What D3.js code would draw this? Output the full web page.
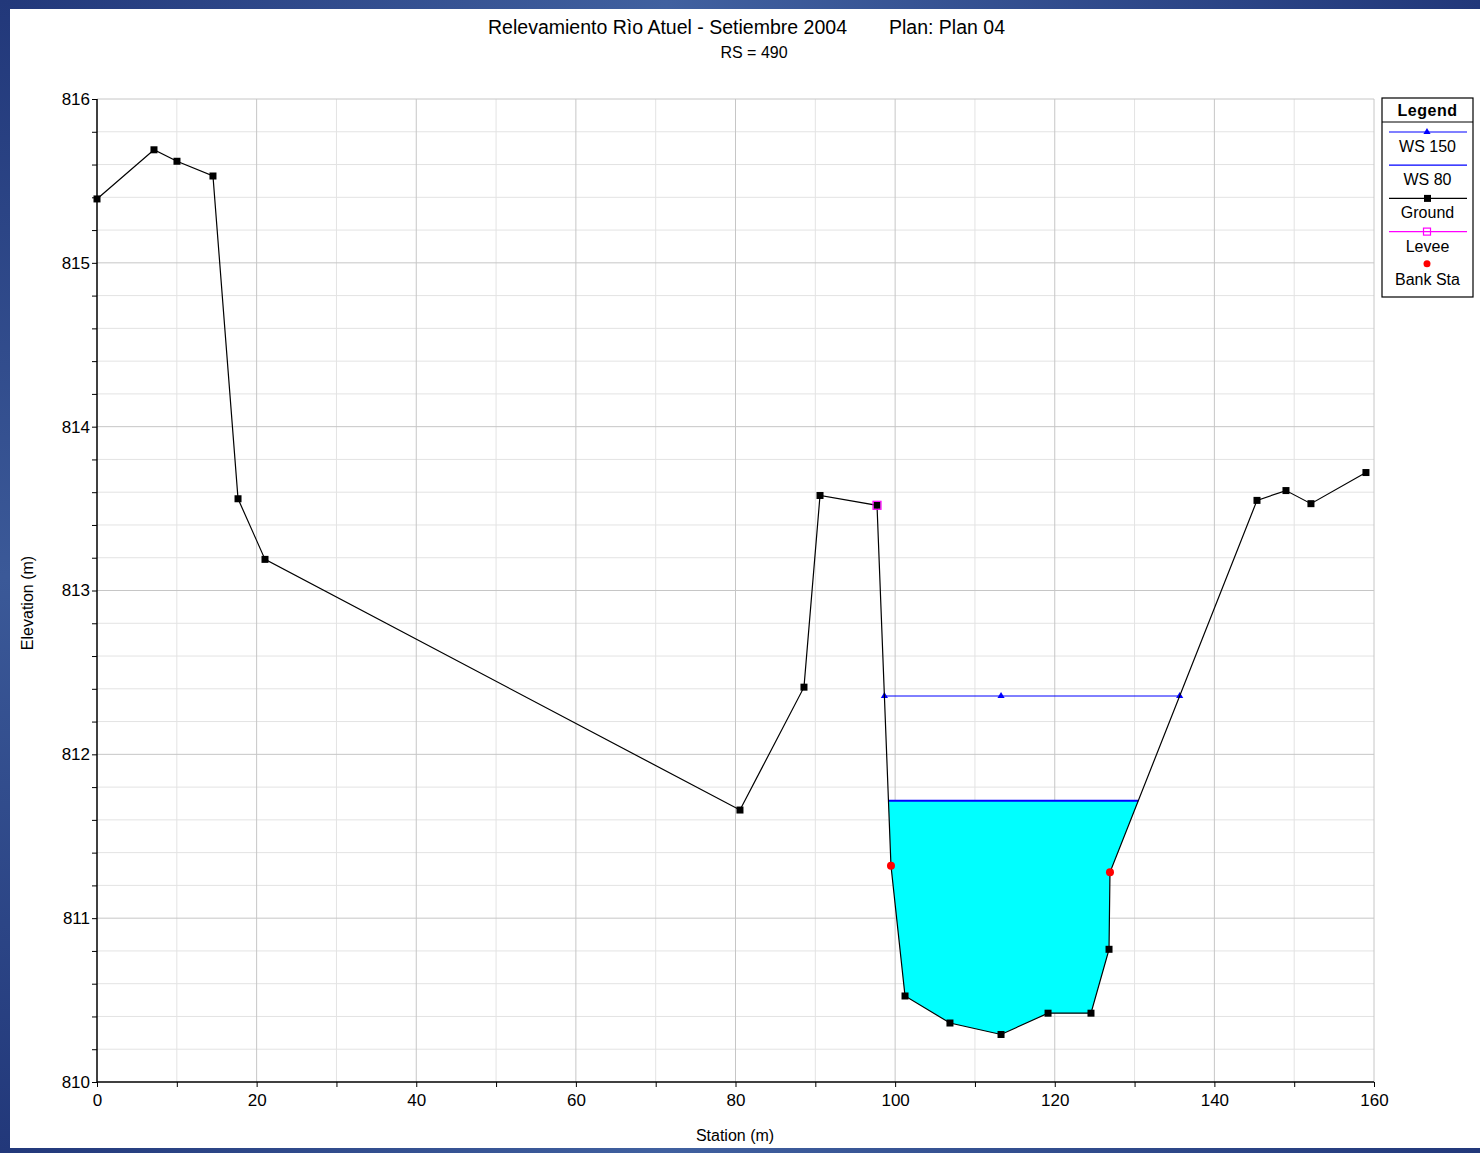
<!DOCTYPE html>
<meta charset="utf-8">
<style>
body { margin: 0; background: #fff; }
text { font-family: "Liberation Sans", Arial, sans-serif; }
</style>
<svg id="chart" width="1480" height="1153"></svg>
<script src="https://d3js.org/d3.v7.min.js"></script>
<script>

var svg = d3.select("svg#chart"),
	width = +svg.attr("width"),
	height = +svg.attr("height");

// ground profile (station m, elevation m)
var stations = [0, 7.14, 10.02, 14.53, 17.67, 21.05, 80.56, 88.58, 90.59, 97.73,
	99.48, 101.24, 106.87, 113.27, 119.16, 124.54, 126.80, 126.92, 145.34, 148.97, 152.10, 158.99];
var elevations = [815.39, 815.69, 815.62, 815.53, 813.56, 813.19, 811.66, 812.41, 813.58, 813.52,
	811.32, 810.525, 810.36, 810.29, 810.42, 810.42, 810.81, 811.28, 813.55, 813.61, 813.53, 813.72];
var levees = [97.73];
var bankStations = [99.48, 126.92];
var ws150 = 812.356;
var ws80 = 811.717;

var xTicks = [0, 20, 40, 60, 80, 100, 120, 140, 160];
var yTicks = [810, 811, 812, 813, 814, 815, 816];
var legendItems = ["WS 150", "WS 80", "Ground", "Levee", "Bank Sta"];

var ground = stations.map(function(s, i) { return { x: s, y: elevations[i] }; });

var pLeft = 97, pRight = 1374, pTop = 99, pBottom = 1082;

var x = d3.scaleLinear().domain([0, 160]).range([pLeft, pRight]);
var y = d3.scaleLinear().domain([810, 816]).range([pBottom, pTop]);

// blue frame
var defs = svg.append("defs");
var gh = defs.append("linearGradient").attr("id", "gh");
gh.append("stop").attr("offset", "0%").attr("stop-color", "#22387a");
gh.append("stop").attr("offset", "45%").attr("stop-color", "#40609f");
gh.append("stop").attr("offset", "100%").attr("stop-color", "#22387a");
var gv = defs.append("linearGradient").attr("id", "gv").attr("x1", 0).attr("y1", 0).attr("x2", 0).attr("y2", 1);
gv.append("stop").attr("offset", "0%").attr("stop-color", "#22387a");
gv.append("stop").attr("offset", "50%").attr("stop-color", "#3b5998");
gv.append("stop").attr("offset", "100%").attr("stop-color", "#22387a");

svg.append("rect").attr("x", 0).attr("y", 0).attr("width", width).attr("height", 9).attr("fill", "url(#gh)");
svg.append("rect").attr("x", 0).attr("y", 1148).attr("width", width).attr("height", 5).attr("fill", "url(#gh)");
svg.append("rect").attr("x", 0).attr("y", 0).attr("width", 10).attr("height", height).attr("fill", "url(#gv)");

// grid
var grid = svg.append("g");
grid.selectAll(".vmin").data(d3.range(10, 160, 20)).enter().append("line")
	.attr("x1", function(d) { return x(d); }).attr("x2", function(d) { return x(d); })
	.attr("y1", pTop).attr("y2", pBottom).attr("stroke", "#e3e3e3");
grid.selectAll(".hmin").data(d3.range(810.2, 816, 0.2).filter(function(d) {
		return Math.abs(d - Math.round(d)) > 0.01; }))
	.enter().append("line")
	.attr("x1", pLeft).attr("x2", pRight)
	.attr("y1", function(d) { return y(d); }).attr("y2", function(d) { return y(d); })
	.attr("stroke", "#e3e3e3");
grid.selectAll(".vmaj").data(xTicks.slice(1)).enter().append("line")
	.attr("x1", function(d) { return x(d); }).attr("x2", function(d) { return x(d); })
	.attr("y1", pTop).attr("y2", pBottom).attr("stroke", "#c6c6c6");
grid.selectAll(".hmaj").data(yTicks.slice(1)).enter().append("line")
	.attr("x1", pLeft).attr("x2", pRight)
	.attr("y1", function(d) { return y(d); }).attr("y2", function(d) { return y(d); })
	.attr("stroke", "#c6c6c6");

// axes
var xAxis = svg.append("g").attr("transform", "translate(0," + pBottom + ")")
	.call(d3.axisBottom(x).tickValues(d3.range(0, 161, 10)).tickSize(5)
		.tickFormat(function(d) { return xTicks.indexOf(d) >= 0 ? d : ""; }));
var yAxis = svg.append("g").attr("transform", "translate(" + pLeft + ",0)")
	.call(d3.axisLeft(y).tickValues(d3.range(810, 816.01, 0.2)).tickSize(5)
		.tickFormat(function(d) { return Math.abs(d - Math.round(d)) < 0.01 ? d3.format("d")(Math.round(d)) : ""; }));

[xAxis, yAxis].forEach(function(a) {
	a.select(".domain").attr("stroke", "#000").attr("stroke-width", 1.5);
	a.selectAll(".tick line").attr("stroke", "#000");
	a.selectAll(".tick text").attr("fill", "#000").style("font-size", "17px")
		.style("font-family", "'Liberation Sans', Arial, sans-serif");
});
xAxis.select(".domain").attr("d", "M" + pLeft + ",0H" + pRight);
yAxis.select(".domain").attr("d", "M0," + pBottom + "V" + pTop);
xAxis.selectAll(".tick text").attr("dy", "0.75em").attr("y", 11);
yAxis.selectAll(".tick text").attr("x", -7);

// water fill for WS 80
function crossing(level) {
	var iMin = d3.minIndex(ground, function(d) { return d.y; });
	var i = iMin, j = iMin;
	while (i > 0 && ground[i - 1].y < level) i--;
	while (j < ground.length - 1 && ground[j + 1].y < level) j++;
	function interp(a, b) {
		var t = (level - a.y) / (b.y - a.y);
		return a.x + t * (b.x - a.x);
	}
	return {
		xl: interp(ground[i - 1], ground[i]),
		xr: interp(ground[j + 1], ground[j]),
		inner: ground.slice(i, j + 1),
		thalweg: ground[iMin].x
	};
}

var c80 = crossing(ws80);
var poly = [{ x: c80.xl, y: ws80 }].concat(c80.inner).concat([{ x: c80.xr, y: ws80 }]);
svg.append("path")
	.attr("d", d3.line().x(function(d) { return x(d.x); }).y(function(d) { return y(d.y); })(poly) + "Z")
	.attr("fill", "#00ffff");
svg.append("line")
	.attr("x1", x(c80.xl)).attr("x2", x(c80.xr)).attr("y1", y(ws80)).attr("y2", y(ws80))
	.attr("stroke", "#0000ff").attr("stroke-width", 2);

// WS 150
var c150 = crossing(ws150);
var ws150pts = [c150.xl, c150.thalweg, c150.xr];
svg.append("line")
	.attr("x1", x(c150.xl)).attr("x2", x(c150.xr)).attr("y1", y(ws150)).attr("y2", y(ws150))
	.attr("stroke", "#0000ff").attr("stroke-width", 1);
var tri = d3.symbol().type(d3.symbolTriangle).size(22);
svg.selectAll(".wst").data(ws150pts).enter().append("path")
	.attr("d", tri)
	.attr("transform", function(d) { return "translate(" + x(d) + "," + y(ws150) + ")"; })
	.attr("fill", "#0000ff");

// ground
var line = d3.line().x(function(d) { return x(d.x); }).y(function(d) { return y(d.y); });
svg.append("path").datum(ground).attr("d", line)
	.attr("fill", "none").attr("stroke", "#000").attr("stroke-width", 1.2);
svg.selectAll(".gp").data(ground.filter(function(d) { return bankStations.indexOf(d.x) < 0; }))
	.enter().append("rect")
	.attr("x", function(d) { return x(d.x) - 3.5; })
	.attr("y", function(d) { return y(d.y) - 3.5; })
	.attr("width", 7).attr("height", 7).attr("fill", "#000");

function groundAt(s) {
	var k = stations.indexOf(s);
	return elevations[k];
}

// levee
svg.selectAll(".lv").data(levees).enter().append("rect")
	.attr("x", function(d) { return x(d) - 4; })
	.attr("y", function(d) { return y(groundAt(d)) - 4; })
	.attr("width", 8).attr("height", 8)
	.attr("fill", "none").attr("stroke", "#ff00ff").attr("stroke-width", 1.2);

// bank stations
svg.selectAll(".bk").data(bankStations).enter().append("circle")
	.attr("cx", function(d) { return x(d); })
	.attr("cy", function(d) { return y(groundAt(d)); })
	.attr("r", 4).attr("fill", "#ff0000");

// titles
svg.append("text").attr("x", 488).attr("y", 34).attr("font-size", 20)
	.attr("textLength", 359).attr("lengthAdjust", "spacingAndGlyphs")
	.text("Relevamiento Rìo Atuel - Setiembre 2004");
svg.append("text").attr("x", 889).attr("y", 34).attr("font-size", 20)
	.attr("textLength", 116).attr("lengthAdjust", "spacingAndGlyphs")
	.text("Plan: Plan 04");
svg.append("text").attr("x", 754).attr("y", 58).attr("font-size", 16)
	.attr("text-anchor", "middle").text("RS = 490");

svg.append("text").attr("x", 735).attr("y", 1141).attr("font-size", 16)
	.attr("text-anchor", "middle").text("Station (m)");
svg.append("text").attr("transform", "translate(33,603) rotate(-90)").attr("font-size", 16)
	.attr("text-anchor", "middle").text("Elevation (m)");

// legend
var lg = svg.append("g").attr("transform", "translate(1382,98)");
lg.append("rect").attr("width", 91).attr("height", 199)
	.attr("fill", "#fff").attr("stroke", "#000").attr("stroke-width", 1.2);
lg.append("text").attr("x", 45.5).attr("y", 18).attr("text-anchor", "middle")
	.attr("font-size", 16).attr("font-weight", "bold").attr("letter-spacing", 0.5).text("Legend");
lg.append("line").attr("x1", 0).attr("x2", 91).attr("y1", 24).attr("y2", 24).attr("stroke", "#000");

var lgColors = ["#0000ff", "#0000ff", "#000000", "#ff00ff", null];
legendItems.forEach(function(name, i) {
	var ly = 34 + i * 33.2;
	if (lgColors[i]) {
		lg.append("line").attr("x1", 7).attr("x2", 85).attr("y1", ly).attr("y2", ly)
			.attr("stroke", lgColors[i]).attr("stroke-width", 1.2);
	}
	if (i === 0) lg.append("path").attr("d", tri).attr("transform", "translate(45," + ly + ")").attr("fill", "#0000ff");
	if (i === 2) lg.append("rect").attr("x", 42).attr("y", ly - 3.5).attr("width", 7).attr("height", 7).attr("fill", "#000");
	if (i === 3) lg.append("rect").attr("x", 41.5).attr("y", ly - 3.5).attr("width", 7).attr("height", 7)
		.attr("fill", "none").attr("stroke", "#ff00ff").attr("stroke-width", 1.2);
	if (i === 4) lg.append("circle").attr("cx", 45).attr("cy", ly - 1).attr("r", 3.5).attr("fill", "#ff0000");
	lg.append("text").attr("x", 45.5).attr("y", ly + 20).attr("text-anchor", "middle")
		.attr("font-size", 16).text(name);
});

</script>
